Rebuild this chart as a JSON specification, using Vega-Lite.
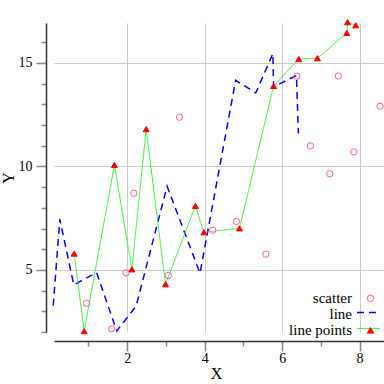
{
  "$schema": "https://vega.github.io/schema/vega-lite/v6.json",
  "width": 330,
  "height": 309,
  "autosize": {"type": "none"},
  "padding": {"left": 54, "top": 23, "right": 0, "bottom": 52},
  "background": "white",
  "title": {"text": "Points Example", "font": "Liberation Serif", "fontSize": 16, "fontWeight": "normal", "color": "black", "anchor": "middle", "dx": -28, "baseline": "alphabetic", "offset": 8},
  "data": {
    "values": [
      {"s": "scatter", "i": 1, "x": 0.95, "y": 3.39},
      {"s": "scatter", "i": 2, "x": 1.60, "y": 2.15},
      {"s": "scatter", "i": 3, "x": 1.97, "y": 4.86},
      {"s": "scatter", "i": 4, "x": 2.17, "y": 8.70},
      {"s": "scatter", "i": 5, "x": 3.35, "y": 12.38},
      {"s": "scatter", "i": 6, "x": 3.06, "y": 4.73},
      {"s": "scatter", "i": 7, "x": 4.21, "y": 6.92},
      {"s": "scatter", "i": 8, "x": 4.82, "y": 7.34},
      {"s": "scatter", "i": 9, "x": 5.58, "y": 5.76},
      {"s": "scatter", "i": 10, "x": 6.38, "y": 14.36},
      {"s": "scatter", "i": 11, "x": 7.45, "y": 14.37},
      {"s": "scatter", "i": 12, "x": 8.53, "y": 12.91},
      {"s": "scatter", "i": 13, "x": 6.73, "y": 10.99},
      {"s": "scatter", "i": 14, "x": 7.85, "y": 10.70},
      {"s": "scatter", "i": 15, "x": 7.23, "y": 9.64},
      {"s": "line", "i": 1, "x": 0.09, "y": 3.27},
      {"s": "line", "i": 2, "x": 0.26, "y": 7.45},
      {"s": "line", "i": 3, "x": 0.62, "y": 4.28},
      {"s": "line", "i": 4, "x": 1.21, "y": 4.87},
      {"s": "line", "i": 5, "x": 1.73, "y": 2.05},
      {"s": "line", "i": 6, "x": 2.23, "y": 3.25},
      {"s": "line", "i": 7, "x": 3.03, "y": 9.04},
      {"s": "line", "i": 8, "x": 3.88, "y": 4.84},
      {"s": "line", "i": 9, "x": 4.80, "y": 14.16},
      {"s": "line", "i": 10, "x": 5.32, "y": 13.55},
      {"s": "line", "i": 11, "x": 5.76, "y": 15.45},
      {"s": "line", "i": 12, "x": 5.78, "y": 13.84},
      {"s": "line", "i": 13, "x": 6.37, "y": 14.40},
      {"s": "line", "i": 14, "x": 6.42, "y": 11.59},
      {"s": "line points", "i": 1, "x": 0.63, "y": 5.79},
      {"s": "line points", "i": 2, "x": 0.89, "y": 2.04},
      {"s": "line points", "i": 3, "x": 1.67, "y": 10.07},
      {"s": "line points", "i": 4, "x": 2.12, "y": 5.03},
      {"s": "line points", "i": 5, "x": 2.49, "y": 11.80},
      {"s": "line points", "i": 6, "x": 2.99, "y": 4.31},
      {"s": "line points", "i": 7, "x": 3.76, "y": 8.09},
      {"s": "line points", "i": 8, "x": 3.98, "y": 6.82},
      {"s": "line points", "i": 9, "x": 4.90, "y": 7.01},
      {"s": "line points", "i": 10, "x": 5.78, "y": 13.89},
      {"s": "line points", "i": 11, "x": 6.43, "y": 15.19},
      {"s": "line points", "i": 12, "x": 6.91, "y": 15.23},
      {"s": "line points", "i": 13, "x": 7.67, "y": 16.45},
      {"s": "line points", "i": 14, "x": 7.69, "y": 16.97},
      {"s": "line points", "i": 15, "x": 7.90, "y": 16.82}
    ]
  },
  "encoding": {
    "x": {
      "field": "x", "type": "quantitative",
      "scale": {"domain": [0.11, 8.63], "nice": false, "zero": false},
      "axis": {
        "values": [1, 2, 3, 4, 5, 6, 7, 8],
        "labelExpr": "datum.value % 2 === 0 ? datum.label : ''",
        "tickSize": {"condition": {"test": "datum.value % 2 === 0", "value": 10}, "value": 5},
        "grid": true,
        "gridColor": "#cccccc",
        "gridOpacity": {"condition": {"test": "datum.value % 2 === 0", "value": 1}, "value": 0},
        "offset": 9,
        "domainColor": "#333333", "domainWidth": 1.5,
        "tickColor": "#888888", "tickWidth": 1.5,
        "labelFont": "Liberation Serif", "labelFontSize": 14, "labelColor": "black", "labelPadding": 0,
        "title": "X", "titleFont": "Liberation Serif", "titleFontSize": 16, "titleFontWeight": "normal", "titleColor": "black",
        "titleX": 162, "titleY": 37, "titleBaseline": "alphabetic"
      }
    },
    "y": {
      "field": "y", "type": "quantitative",
      "scale": {"domain": [2, 16.93], "nice": false, "zero": false},
      "axis": {
        "values": [2, 3, 4, 5, 6, 7, 8, 9, 10, 11, 12, 13, 14, 15, 16],
        "labelExpr": "datum.value % 5 === 0 ? datum.label : ''",
        "tickSize": {"condition": {"test": "datum.value % 5 === 0", "value": 10}, "value": 5},
        "grid": true,
        "gridColor": "#cccccc",
        "gridOpacity": {"condition": {"test": "datum.value % 5 === 0", "value": 1}, "value": 0},
        "offset": 8,
        "domainColor": "#333333", "domainWidth": 1.5,
        "tickColor": "#888888", "tickWidth": 1.5,
        "labelFont": "Liberation Serif", "labelFontSize": 14, "labelColor": "black", "labelPadding": 4,
        "title": "Y", "titleFont": "Liberation Serif", "titleFontSize": 16, "titleFontWeight": "normal", "titleColor": "black",
        "titleX": -38, "titleY": 154.5, "titleBaseline": "middle", "titleAngle": -90
      }
    }
  },
  "layer": [
    {
      "transform": [{"filter": "datum.s === 'line'"}],
      "mark": {"type": "line"},
      "encoding": {
        "order": {"field": "i", "type": "quantitative"},
        "color": {
          "field": "s", "type": "nominal",
          "scale": {"domain": ["line", "line points"], "range": ["#0000ff", "#33ee33"]},
          "legend": {
            "orient": "none", "legendX": 307, "legendY": 282.1, "title": null, "padding": 0,
            "symbolType": "M-1.917,0H1.917", "symbolSize": 144, "symbolFillColor": "transparent",
            "labelExpr": "''", "labelFontSize": 15, "labelFont": "Liberation Serif",
            "labelAlign": "right", "labelOffset": -26, "rowPadding": -3.7
          }
        },
        "strokeDash": {
          "field": "s", "type": "nominal",
          "scale": {"domain": ["line", "line points"], "range": [[7, 5], [1, 0]]},
          "legend": {
            "orient": "none", "legendX": 307, "legendY": 282.1, "title": null, "padding": 0,
            "symbolType": "M-1.917,0H1.917", "symbolSize": 144, "symbolFillColor": "transparent",
            "labelExpr": "''", "labelFontSize": 15, "labelFont": "Liberation Serif",
            "labelAlign": "right", "labelOffset": -26, "rowPadding": -3.7
          }
        },
        "strokeWidth": {
          "field": "s", "type": "nominal",
          "scale": {"domain": ["line", "line points"], "range": [1.5, 1]},
          "legend": {
            "orient": "none", "legendX": 307, "legendY": 282.1, "title": null, "padding": 0,
            "symbolType": "M-1.917,0H1.917", "symbolSize": 144, "symbolFillColor": "transparent",
            "labelExpr": "''", "labelFontSize": 15, "labelFont": "Liberation Serif",
            "labelAlign": "right", "labelOffset": -26, "rowPadding": -3.7
          }
        }
      }
    },
    {
      "transform": [{"filter": "datum.s === 'line points'"}],
      "mark": {"type": "line"},
      "encoding": {
        "order": {"field": "i", "type": "quantitative"},
        "color": {"field": "s", "type": "nominal"},
        "strokeDash": {"field": "s", "type": "nominal"},
        "strokeWidth": {"field": "s", "type": "nominal"}
      }
    },
    {
      "transform": [{"filter": "datum.s === 'scatter'"}],
      "mark": {"type": "point", "filled": true, "size": 40, "opacity": 1, "strokeWidth": 1},
      "encoding": {
        "shape": {
          "field": "s", "type": "nominal",
          "scale": {"domain": ["scatter", "line", "line points"], "range": ["circle", "M0,0", "triangle-up"]},
          "legend": {
            "orient": "none", "legendX": 309, "legendY": 267.8, "title": null, "padding": 0,
            "symbolSize": 42, "symbolStrokeWidth": 1, "symbolOpacity": 1,
            "labelFontSize": 15, "labelFont": "Liberation Serif", "labelColor": "black",
            "labelAlign": "right", "labelOffset": -26, "rowPadding": -3.7
          }
        },
        "fill": {
          "field": "s", "type": "nominal",
          "scale": {"domain": ["scatter", "line", "line points"], "range": ["transparent", "transparent", "#ff0000"]},
          "legend": {
            "orient": "none", "legendX": 309, "legendY": 267.8, "title": null, "padding": 0,
            "symbolSize": 42, "symbolStrokeWidth": 1, "symbolOpacity": 1,
            "labelFontSize": 15, "labelFont": "Liberation Serif", "labelColor": "black",
            "labelAlign": "right", "labelOffset": -26, "rowPadding": -3.7
          }
        },
        "stroke": {
          "field": "s", "type": "nominal",
          "scale": {"domain": ["scatter", "line", "line points"], "range": ["#ff5aac", "transparent", "#ff0000"]},
          "legend": {
            "orient": "none", "legendX": 309, "legendY": 267.8, "title": null, "padding": 0,
            "symbolSize": 42, "symbolStrokeWidth": 1, "symbolOpacity": 1,
            "labelFontSize": 15, "labelFont": "Liberation Serif", "labelColor": "black",
            "labelAlign": "right", "labelOffset": -26, "rowPadding": -3.7
          }
        }
      }
    },
    {
      "transform": [{"filter": "datum.s === 'line points'"}],
      "mark": {"type": "point", "filled": true, "size": 36, "opacity": 1, "strokeWidth": 1},
      "encoding": {
        "shape": {"field": "s", "type": "nominal"},
        "fill": {"field": "s", "type": "nominal"},
        "stroke": {"field": "s", "type": "nominal"}
      }
    }
  ],
  "config": {
    "view": {"stroke": null},
    "font": "Liberation Serif"
  }
}
